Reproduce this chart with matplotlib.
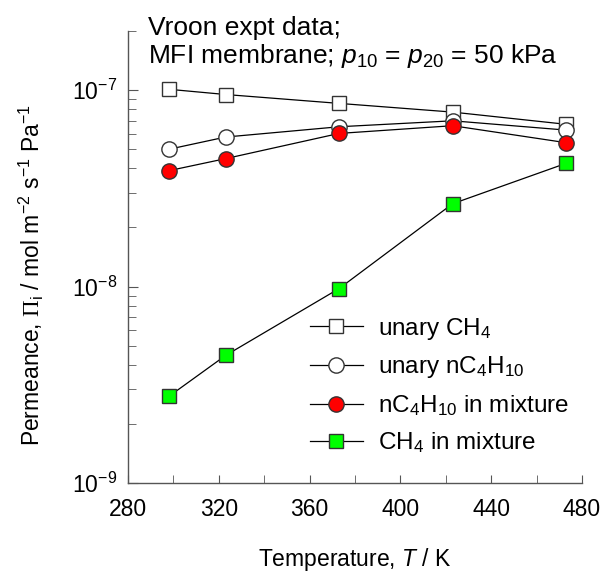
import numpy as np
import matplotlib.pyplot as plt
from matplotlib.ticker import LogLocator, MultipleLocator, NullFormatter

plt.rcParams['font.family'] = ['Liberation Sans', 'DejaVu Sans']
plt.rcParams['mathtext.fontset'] = 'custom'
plt.rcParams['mathtext.rm'] = 'Liberation Sans'
plt.rcParams['mathtext.it'] = 'Liberation Sans:italic'
plt.rcParams['mathtext.sf'] = 'Liberation Serif'   # used for the Greek Pi

# temperatures, K
T = [298, 323, 373, 423, 473]

# permeances, mol m-2 s-1 Pa-1
ch4_unary = [1.01e-7, 0.95e-7, 0.856e-7, 0.773e-7, 0.67e-7]
c4_unary = [0.50e-7, 0.577e-7, 0.651e-7, 0.698e-7, 0.626e-7]
c4_mix = [0.389e-7, 0.448e-7, 0.602e-7, 0.659e-7, 0.540e-7]
ch4_mix = [2.76e-9, 4.46e-9, 9.77e-9, 2.64e-8, 4.24e-8]

labels = ['unary CH$_4$', 'unary nC$_4$H$_{10}$',
          'nC$_4$H$_{10}$ in mixture', 'CH$_4$ in mixture']

fig = plt.figure(figsize=(6.06, 5.73), dpi=100)
ax = fig.add_axes([128/606, 1-483/573, 454/606, 452/573])

ec = '#333333'
ax.plot(T, ch4_unary, '-', color='k', lw=0.9, marker='s', ms=10,
        mfc='white', mec=ec, mew=1.0, label=labels[0])
ax.plot(T, c4_unary, '-', color='k', lw=0.9, marker='o', ms=11,
        mfc='white', mec=ec, mew=1.0, label=labels[1])
ax.plot(T, c4_mix, '-', color='k', lw=0.9, marker='o', ms=11,
        mfc='#ff0000', mec=ec, mew=1.0, label=labels[2])
ax.plot(T, ch4_mix, '-', color='k', lw=0.9, marker='s', ms=10,
        mfc='#00ff00', mec=ec, mew=1.0, label=labels[3])

ax.set_yscale('log')
ax.set_ylim(1e-9, 2e-7)
ax.set_xlim(280, 480)
ax.xaxis.set_major_locator(MultipleLocator(40))
ax.xaxis.set_minor_locator(MultipleLocator(20))
ax.yaxis.set_major_locator(LogLocator(base=10, numticks=10))
ax.yaxis.set_minor_locator(LogLocator(base=10, subs=np.arange(2, 10), numticks=10))
ax.yaxis.set_minor_formatter(NullFormatter())

for s in ['top', 'right']:
    ax.spines[s].set_visible(False)
for s in ['left', 'bottom']:
    ax.spines[s].set_color('#555555')
    ax.spines[s].set_linewidth(1.0)

ax.tick_params(axis='both', which='both', direction='in', color='#555555',
               labelsize=16.5)
ax.tick_params(axis='x', which='both', length=6, pad=11)
ax.tick_params(axis='y', which='major', length=7.5, pad=8)
ax.tick_params(axis='y', which='minor', length=5.5)

ax.set_xlabel('Temperature, $T$ / K', fontsize=16.5)
ax.xaxis.set_label_coords(0.5, -0.14)
ax.set_ylabel(r'Permeance, $\mathsf{\Pi}_\mathrm{i}$ / mol m$^{-2}$ s$^{-1}$ Pa$^{-1}$',
              fontsize=16.5)
ax.yaxis.set_label_coords(-0.18, 0.46)

fig.text(148/606, 1-35/573, 'Vroon expt data;', fontsize=19, va='baseline')
fig.text(148/606, 1-63/573, 'MFI membrane; $p_{10}$ = $p_{20}$ = 50 kPa',
         fontsize=19, va='baseline')

leg = ax.legend(loc='upper left', bbox_to_anchor=(0.40, 0.37), frameon=False,
                fontsize=17.5, handlelength=2.2, handletextpad=0.62,
                labelspacing=0.52, borderpad=0, borderaxespad=0)

fig.savefig('out.png', dpi=100)
